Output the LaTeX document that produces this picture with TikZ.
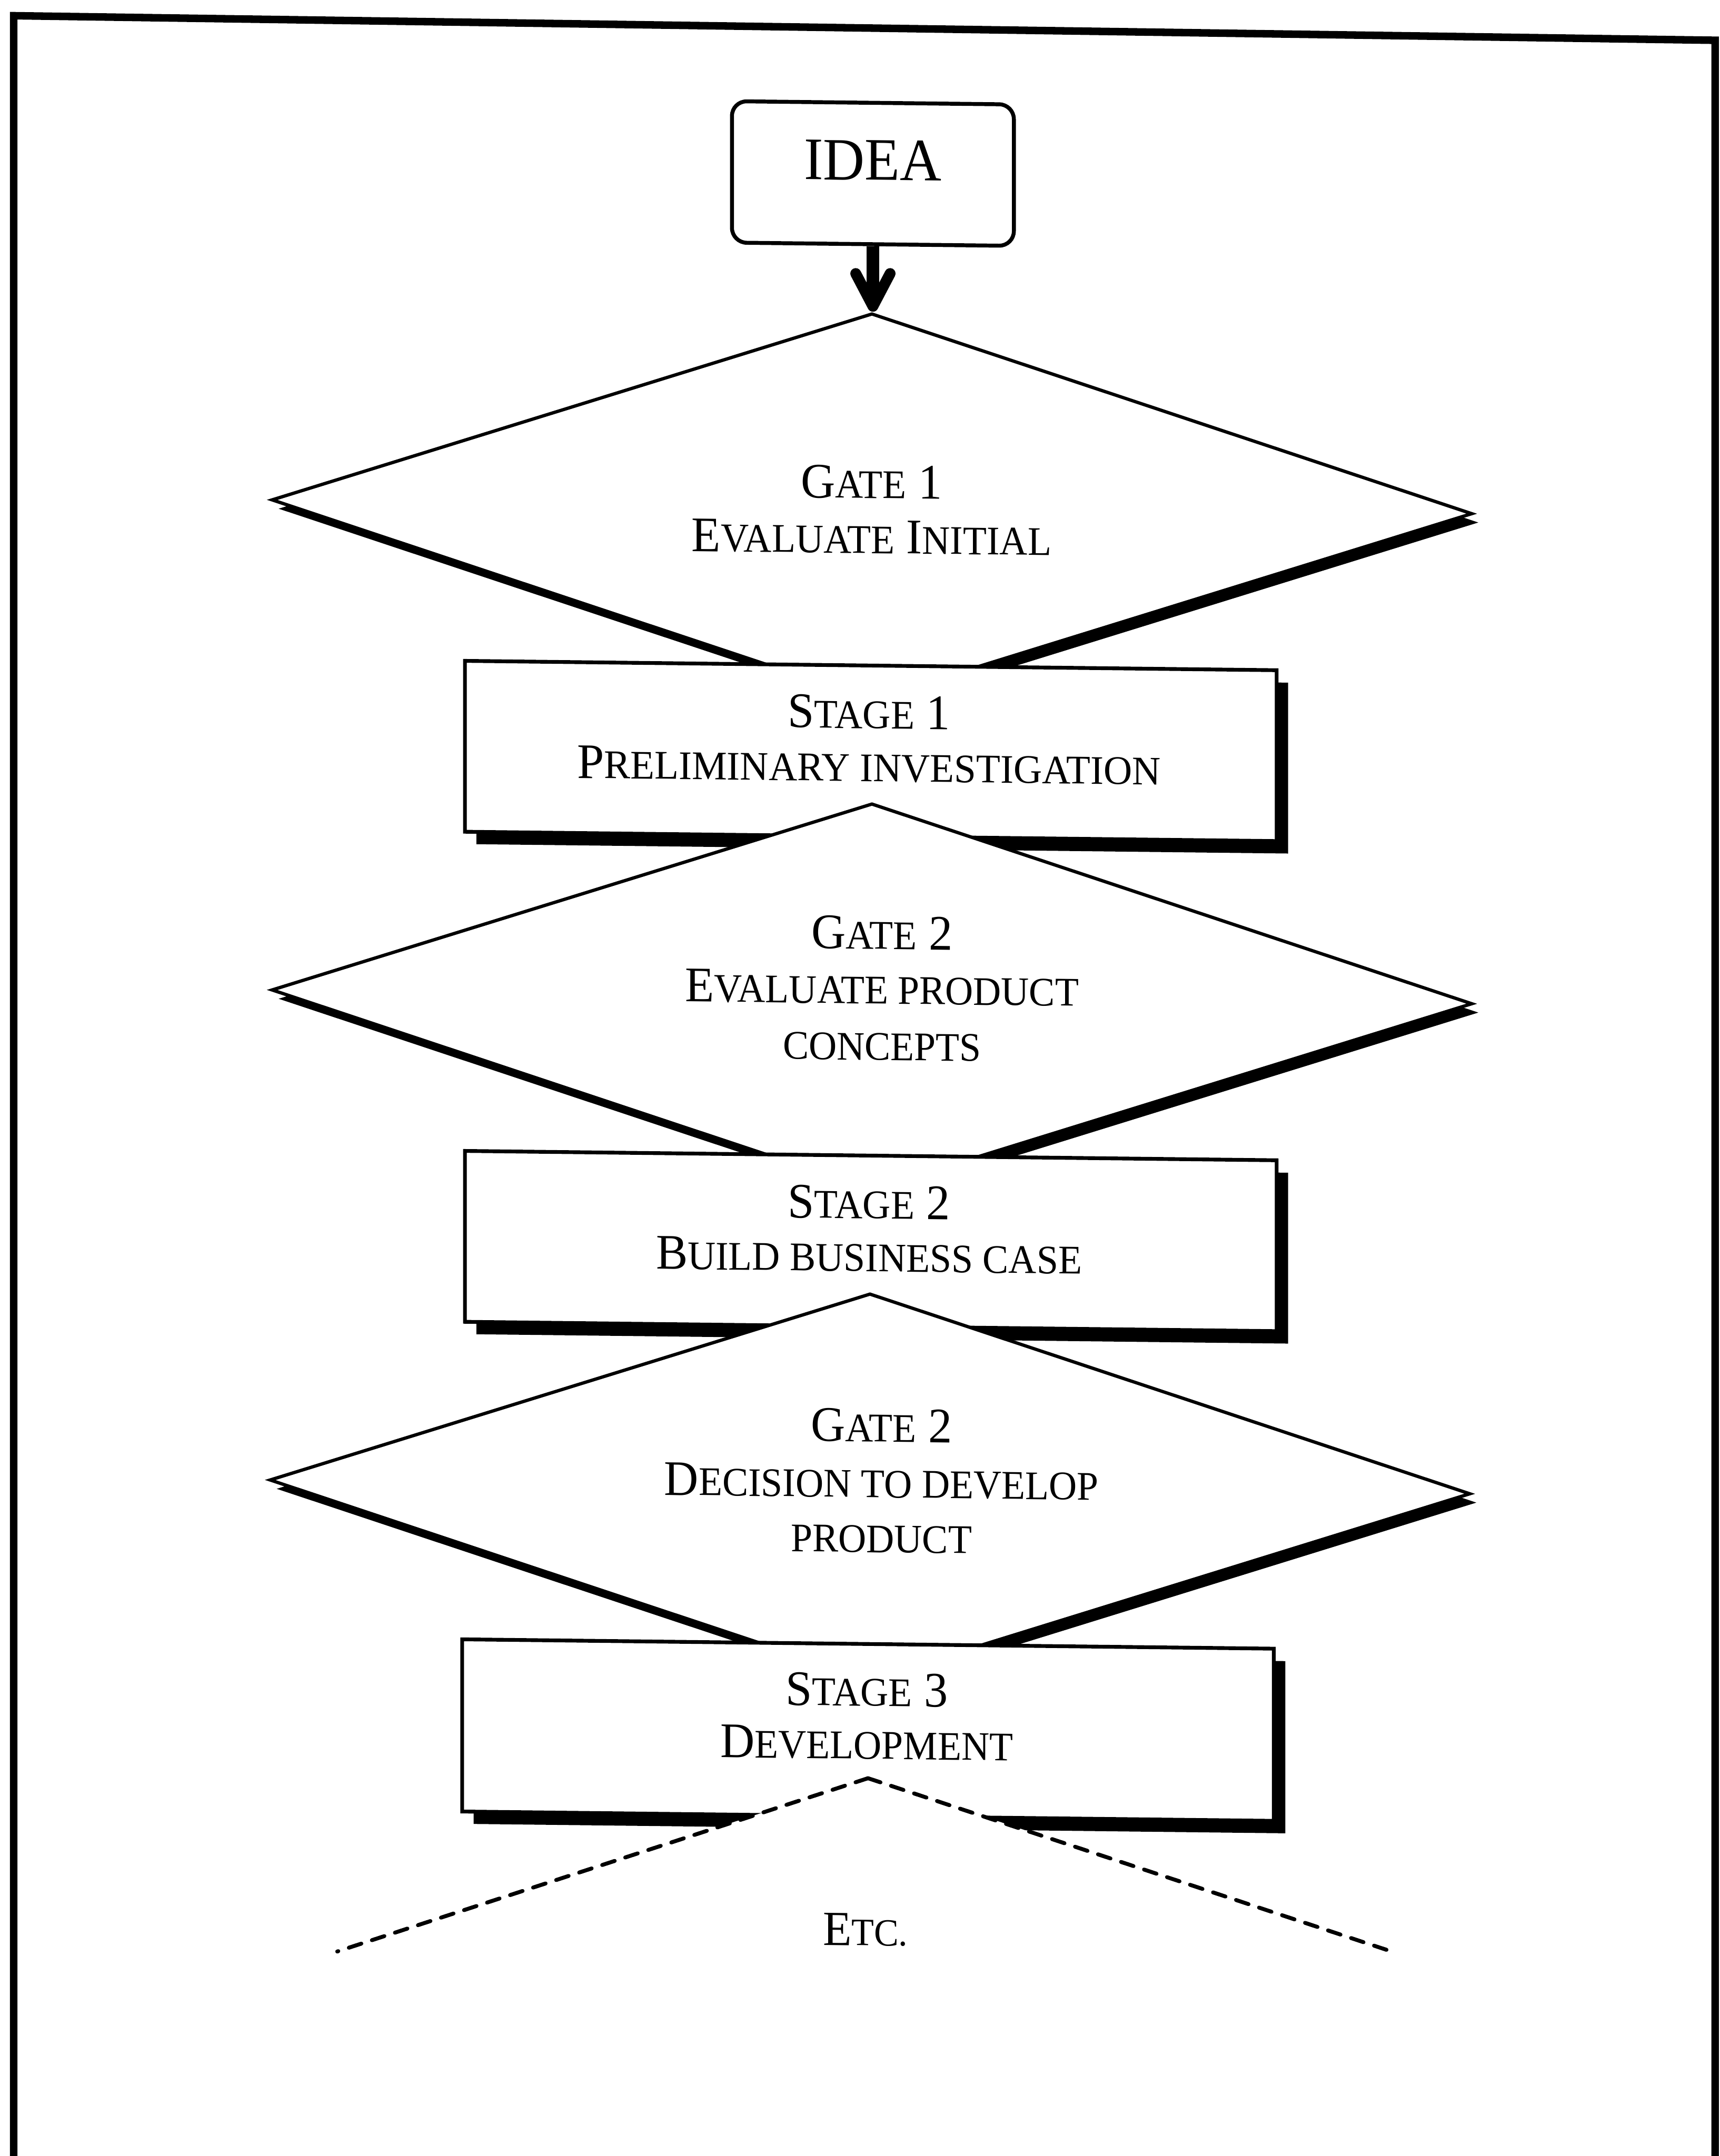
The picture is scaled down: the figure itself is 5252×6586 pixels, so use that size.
\documentclass[tikz,border=0pt]{standalone}
\usepackage{fontspec}
\setmainfont[FakeStretch=0.955]{Liberation Serif}
\usetikzlibrary{shapes.geometric,shadows,arrows.meta}
% small capitals, faked with a smaller size of the capitals
\newcommand\smc[1]{{\fontsize{12.4pt}{16.9pt}\selectfont #1}}
\tikzset{
  gate/.style={diamond, draw, line width=1pt, fill=white, inner sep=0pt,
    minimum width=366.8pt, minimum height=118.2pt,
    drop shadow={shadow xshift=2pt, shadow yshift=-2.7pt, fill=black, opacity=1}},
  stagebox/.style={rectangle, draw, line width=1.15pt, fill=white, inner sep=0pt,
    minimum width=247.9pt, minimum height=52.2pt,
    drop shadow={shadow xshift=3.5pt, shadow yshift=-3.8pt, fill=black, opacity=1}},
  ideabox/.style={rectangle, rounded corners=4.5pt, draw, line width=1.2pt, fill=white,
    inner sep=0pt, minimum width=86.1pt, text height=23.6pt, text depth=19.6pt,
    font=\fontsize{18.4pt}{20pt}\selectfont},
  lbl/.style={anchor=base, inner sep=0pt, font=\fontsize{15.2pt}{16.9pt}\selectfont},
  flow/.style={line width=3.9pt,
    -{Straight Barb[length=10pt, width=10.5pt, line width=0pt 0.85, round]}},
  etcline/.style={line width=1.2pt, line cap=round, dash pattern=on 4pt off 3.4pt},
  frame/.style={line width=2.3pt, line join=miter}
}
\begin{document}
\begin{tikzpicture}[x=0.1pt, y=-0.1pt]
\useasboundingbox (-2660,0) rectangle (2592,6586);
\fill[white] (-2660,0) rectangle (2592,6586);
% page frame
\draw[frame] (-2618,6700) -- (-2618,48) -- (2578,123) -- (2578,6700);

\begin{scope}[yslant=-0.0115, transform shape]
  % start
  \node[ideabox, anchor=north] (idea) at (6,308) {IDEA};

  % gate 1
  \node[gate] (g1) at (3,1548) {};
  \node[lbl] (g1a) at (2,1522) {G\smc{ATE} 1};
  \node[lbl] (g1b) at (2,1690) {E\smc{VALUATE} I\smc{NITIAL}};

  % stage 1
  \node[stagebox] (s1) at (-0.5,2294) {};
  \node[lbl] (s1a) at (-6,2225) {S\smc{TAGE} 1};
  \node[lbl, xscale=1.02] (s1b) at (-6,2387) {P\smc{RELIMINARY INVESTIGATION}};

  % gate 2
  \node[gate] (g2) at (3,3045) {};
  \node[lbl] (g2a) at (34,2899) {G\smc{ATE} 2};
  \node[lbl] (g2b) at (34,3066) {E\smc{VALUATE PRODUCT}};
  \node[lbl] (g2c) at (34,3238) {\smc{CONCEPTS}};

  % stage 2
  \node[stagebox] (s2) at (-0.5,3791) {};
  \node[lbl] (s2a) at (-6,3722) {S\smc{TAGE} 2};
  \node[lbl] (s2b) at (-6,3884) {B\smc{UILD BUSINESS CASE}};

  % gate 3
  \node[gate] (g3) at (-3,4542) {};
  \node[lbl] (g3a) at (32,4404) {G\smc{ATE} 2};
  \node[lbl] (g3b) at (32,4574) {D\smc{ECISION TO DEVELOP}};
  \node[lbl] (g3c) at (32,4742) {\smc{PRODUCT}};

  % stage 3
  \node[stagebox, minimum height=52.6pt] (s3) at (-9,5285) {};
  \node[lbl] (s3a) at (-13,5211) {S\smc{TAGE} 3};
  \node[lbl] (s3b) at (-13,5373) {D\smc{EVELOPMENT}};

  % next gate, only begun
  \coordinate (dtop) at (-9,5432);
  \coordinate (dl) at (-1630,5980);
  \coordinate (dr) at (1606,5948);
  \fill[white] (dl) -- (dtop) -- (dr) -- cycle;
  \draw[etcline] (dtop) -- (dl);
  \draw[etcline] (dtop) -- (dr);
  \node[anchor=base, inner sep=0pt, font=\fontsize{15pt}{17pt}\selectfont] (etc)
    at (-17,5943) {E{\fontsize{11.8pt}{17pt}\selectfont TC.}};

  % idea enters the first gate
  \draw[flow] (idea.south) -- (idea.south |- g1.north);
\end{scope}
\end{tikzpicture}
\end{document}
